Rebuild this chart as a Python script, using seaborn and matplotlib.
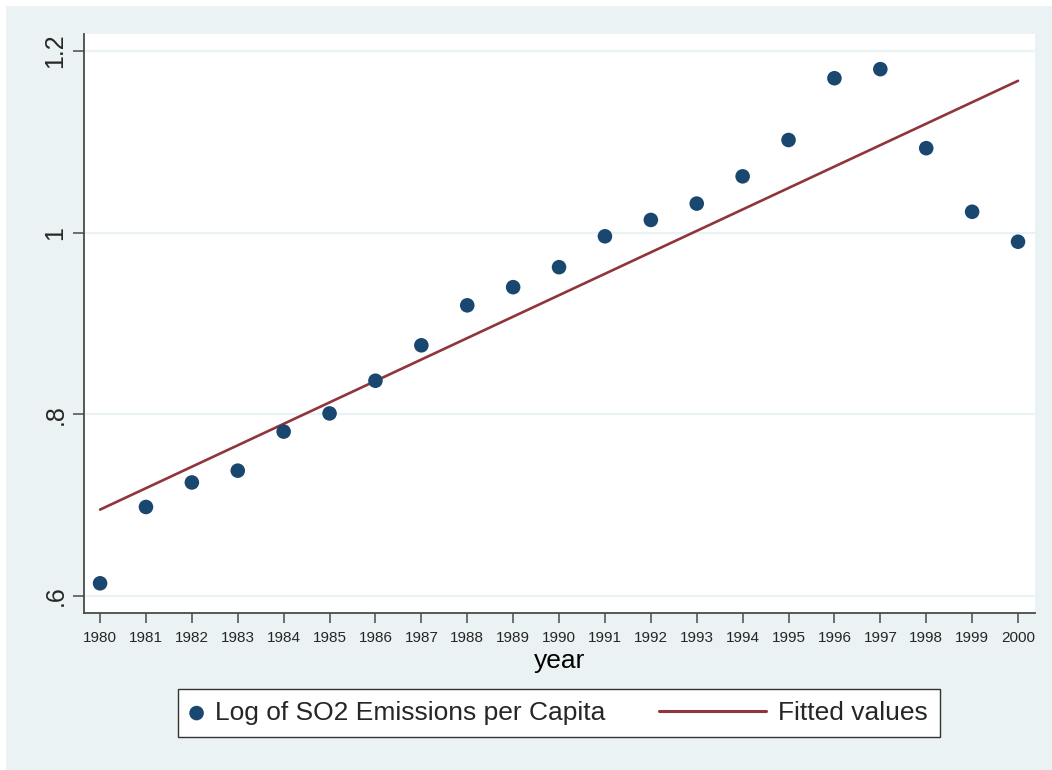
import numpy as np
import pandas as pd
import matplotlib
matplotlib.use("Agg")
import matplotlib.pyplot as plt
from matplotlib.legend_handler import HandlerLine2D
from matplotlib.patches import Rectangle
import seaborn as sns

# Annual data
years = list(range(1980, 2001))
log_so2 = [0.614, 0.698, 0.725, 0.738, 0.781, 0.801, 0.837, 0.876, 0.920, 0.940,
           0.962, 0.996, 1.014, 1.032, 1.062, 1.102, 1.170, 1.180, 1.093, 1.023, 0.990]
y_ticks = [0.6, 0.8, 1.0, 1.2]
y_tick_labels = [".6", ".8", "1", "1.2"]

df = pd.DataFrame({"year": years, "log_so2": log_so2})
slope, intercept = np.polyfit(df["year"], df["log_so2"], 1)
df["fitted"] = intercept + slope * df["year"]

BG = "#EAF2F3"
NAVY = "#1A476F"
MAROON = "#90353B"
AXIS = "#4A4A4A"

sns.set_theme(style="white")
plt.rcParams["font.family"] = ["Liberation Sans", "DejaVu Sans"]

fig = plt.figure(figsize=(10.52, 7.70), dpi=100, facecolor="white")
fig.patches.append(Rectangle((6 / 1052, 0), 1, 1 - 6 / 770, transform=fig.transFigure,
                             facecolor=BG, edgecolor="none", zorder=-10))
ax = fig.add_axes([84 / 1052, 1 - 613 / 770, (1035 - 84) / 1052, (613 - 34) / 770])
ax.set_facecolor("white")

for v in y_ticks:
    ax.axhline(v, color=BG, lw=1.6, zorder=0)

sns.scatterplot(data=df, x="year", y="log_so2", ax=ax, color=NAVY, s=110,
                edgecolor="none", label="Log of SO2 Emissions per Capita", zorder=3)
sns.lineplot(data=df, x="year", y="fitted", ax=ax, color=MAROON, lw=1.9,
             label="Fitted values", zorder=2)

ax.set_xlim(1979.65, 2000.37)
ax.set_ylim(0.5813, 1.2187)
ax.set_xticks(years)
ax.set_xticklabels([str(y) for y in years], fontsize=11)
ax.set_yticks(y_ticks)
ax.set_yticklabels(y_tick_labels, fontsize=18, rotation=90, va="center")
ax.tick_params(axis="y", direction="out", length=8, width=1.1, color=AXIS, pad=4, left=True)
ax.tick_params(axis="x", direction="out", length=7, width=1.1, color=AXIS, pad=6, bottom=True)
ax.set_xlabel("year", fontsize=19, labelpad=3, color="black")
ax.set_ylabel("")

for side in ["top", "right"]:
    ax.spines[side].set_visible(False)
for side in ["left", "bottom"]:
    ax.spines[side].set_color(AXIS)
    ax.spines[side].set_linewidth(1.3)


class LongLineHandler(HandlerLine2D):
    """Line legend key that reaches further to the left than the handle box (extra in points)."""
    def __init__(self, extra, **kw):
        super().__init__(**kw)
        self.extra = extra

    def create_artists(self, legend, orig_handle, xdescent, ydescent, width, height,
                       fontsize, trans):
        artists = super().create_artists(legend, orig_handle, xdescent, ydescent,
                                         width, height, fontsize, trans)
        for a in artists:
            xd = np.asarray(a.get_xdata(), dtype=float)
            if len(xd) >= 2:
                a.set_xdata(np.linspace(xd[0] - self.extra, xd[-1], len(xd)))
        return artists


ax.get_legend().remove()
handles, labels = ax.get_legend_handles_labels()
line_handle = handles[1]
leg = fig.legend(handles, labels, loc="center", bbox_to_anchor=(559 / 1052, 1 - 713 / 770),
                 ncol=2, fontsize=19, frameon=True, fancybox=False, framealpha=1,
                 handlelength=0.5, handletextpad=0.45, columnspacing=5.6,
                 borderpad=0.45, borderaxespad=0,
                 handler_map={line_handle: LongLineHandler(extra=68)})
leg.get_frame().set_edgecolor("#333333")
leg.get_frame().set_linewidth(1.0)
for h in leg.legend_handles:
    if hasattr(h, "set_sizes"):
        h.set_sizes([110])
    elif hasattr(h, "set_linewidth"):
        h.set_linewidth(2.2)

fig.savefig("out.png", dpi=100, facecolor=fig.get_facecolor())
